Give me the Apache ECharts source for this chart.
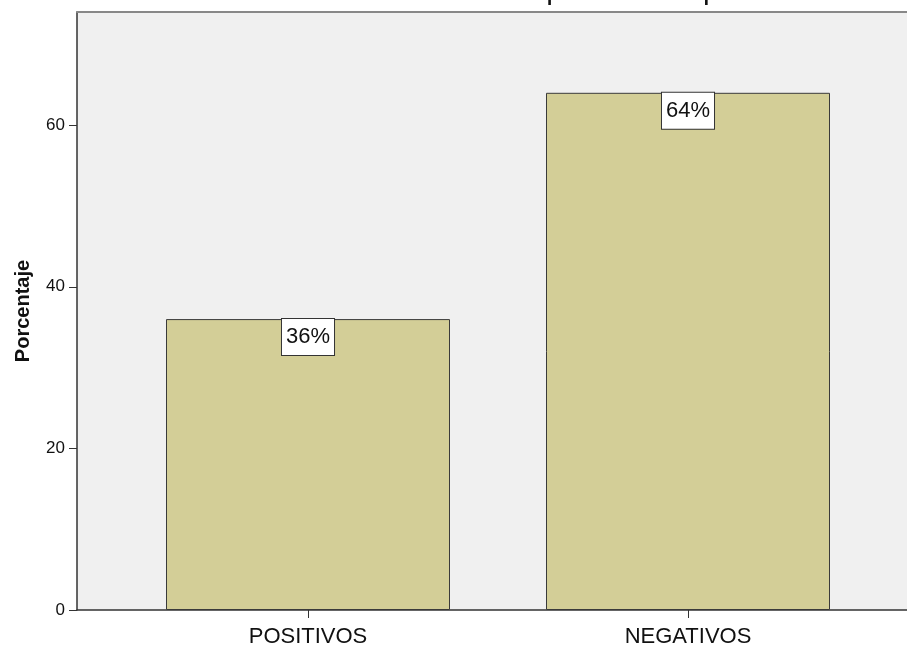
<!DOCTYPE html>
<html>
<head>
<meta charset="utf-8">
<script src="https://cdn.jsdelivr.net/npm/echarts@6/dist/echarts.min.js"></script>
<style>
	html, body { margin: 0; padding: 0; background: #fff; }
	#chart { width: 907px; height: 653px; }
</style>
</head>
<body>
<div id="chart"></div>
<script>
// datos del grafico
var categorias = ['POSITIVOS', 'NEGATIVOS'];
var porcentajes = [36, 64];
var titulo = 'Frecuencia de resultados de Hepatitis VHB positivos';
var ejeY = { min: 0, max: 74, interval: 20 };

var myChart = echarts.init(document.getElementById('chart'));

var option = {
	animation: false,
	// titulo recortado por arriba, como en la imagen original
	graphic: [
		{
			type: 'text',
			left: 121,
			top: -24,
			z: 10,
			style: {
				text: titulo,
				font: '30px "Liberation Sans", Arial',
				fill: '#111'
			}
		}
	],
	grid: [
		// area de barras
		{ left: 118, width: 760, top: 12, bottom: 43, outerBoundsMode: 'none', containLabel: false },
		// marco / fondo gris
		{ left: 77, right: -20, top: 12, bottom: 43, show: true, backgroundColor: '#f0f0f0', borderWidth: 0, outerBoundsMode: 'none', containLabel: false }
	],
	xAxis: [
		{
			type: 'category',
			gridIndex: 0,
			data: categorias,
			axisLine: { show: false },
			axisTick: { show: true, alignWithLabel: true, length: 8, lineStyle: { color: '#333', width: 1 } },
			axisLabel: { fontFamily: 'Liberation Sans, Arial', fontSize: 22, color: '#111', margin: 16 }
		},
		{
			type: 'value',
			gridIndex: 1,
			position: 'bottom',
			axisLine: { show: true, onZero: false, lineStyle: { color: '#333', width: 1.5 } },
			axisTick: { show: false },
			axisLabel: { show: false },
			splitLine: { show: false }
		},
		{
			type: 'value',
			gridIndex: 1,
			position: 'top',
			axisLine: { show: true, onZero: false, lineStyle: { color: '#888', width: 2 } },
			axisTick: { show: false },
			axisLabel: { show: false },
			splitLine: { show: false }
		}
	],
	yAxis: [
		{
			type: 'value',
			gridIndex: 0,
			min: ejeY.min,
			max: ejeY.max,
			interval: ejeY.interval,
			show: false
		},
		{
			type: 'value',
			gridIndex: 1,
			min: ejeY.min,
			max: ejeY.max,
			interval: ejeY.interval,
			name: 'Porcentaje',
			nameLocation: 'middle',
			nameGap: 44,
			nameTextStyle: { fontFamily: 'Liberation Sans, Arial', fontSize: 20, fontWeight: 'bold', color: '#111' },
			axisLine: { show: true, lineStyle: { color: '#333', width: 1.5 } },
			axisTick: { show: true, length: 8, lineStyle: { color: '#333', width: 1 } },
			axisLabel: { fontFamily: 'Liberation Sans, Arial', fontSize: 17, color: '#111', margin: 12, showMaxLabel: false },
			splitLine: { show: false }
		}
	],
	series: [
		{
			type: 'bar',
			xAxisIndex: 0,
			yAxisIndex: 0,
			data: porcentajes,
			barWidth: 284,
			itemStyle: { color: '#d3ce97', borderColor: '#3a3a3a', borderWidth: 1 },
			label: {
				show: true,
				position: 'insideTop',
				distance: 0,
				formatter: '{c}%',
				fontFamily: 'Liberation Sans, Arial',
				fontSize: 22,
				color: '#111',
				backgroundColor: '#fff',
				borderColor: '#333',
				borderWidth: 1,
				padding: [7, 4, 7, 4]
			}
		}
	]
};

myChart.setOption(option);
window.addEventListener('resize', function () {
	myChart.resize();
});
</script>
</body>
</html>
